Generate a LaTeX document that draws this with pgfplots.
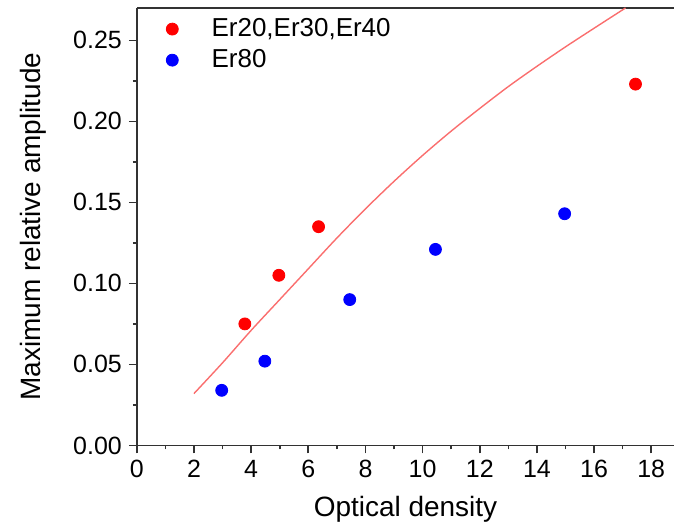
\documentclass[border=0pt]{standalone}
\usepackage{fontspec}
\setmainfont{Liberation Sans}
\usepackage{pgfplots}
\pgfplotsset{compat=1.18}
\definecolor{fitRed}{RGB}{250,110,110}
\definecolor{axGray}{RGB}{50,50,50}

\begin{document}
\begin{tikzpicture}
\begin{axis}[
    name=main,
    width=269bp, height=219bp,
    scale only axis=true,
    xmin=0, xmax=18.8,
    ymin=0, ymax=0.27,
    axis x line*=box, axis y line*=left,
    xtick pos=bottom, ytick pos=left,
    tick align=outside,
    xtick={0,2,...,18},
    ytick={0,0.05,...,0.25},
    minor x tick num=1,
    minor y tick num=1,
    major tick length=4bp, minor tick length=2bp,
    axis line style={axGray, line width=0.9bp},
    every tick/.style={axGray, line width=0.8bp},
    /pgf/number format/assume math mode=true,
    yticklabel style={/pgf/number format/fixed, /pgf/number format/fixed zerofill, /pgf/number format/precision=2},
    tick label style={font=\fontsize{12.5bp}{14bp}\selectfont},
    label style={font=\fontsize{14bp}{16bp}\selectfont},
    xlabel={Optical density},
    ylabel={Maximum relative amplitude},
    xlabel style={yshift=-2bp},
    ylabel style={yshift=6.5bp},
    legend style={draw=none, fill=none, at={(0.02,0.995)}, anchor=north west,
        font=\fontsize{13bp}{15bp}\selectfont, row sep=1bp},
    legend image code/.code={%
        \path (0bp,0bp) (26.5bp,0bp);
        \draw[#1] plot coordinates {(9bp,0bp)};},
    legend cell align=left,
    clip=false,
]
\addplot[only marks, mark=*, mark size=3bp, color=red, mark options={draw=red, fill=red}]
  coordinates {(3.78,0.075) (4.97,0.105) (6.36,0.135) (17.45,0.223)};
\addlegendentry{Er20,Er30,Er40}
\addplot[only marks, mark=*, mark size=3bp, color=blue, mark options={draw=blue, fill=blue}]
  coordinates {(2.97,0.034) (4.48,0.052) (7.45,0.090) (10.45,0.121) (14.97,0.143)};
\addlegendentry{Er80}
\addplot[fitRed, line width=0.7bp, smooth, forget plot]
  coordinates {(2.0,0.032) (3,0.051) (4,0.071) (5,0.090) (6,0.109) (7,0.128) (8,0.146) (9,0.163) (10,0.179) (11,0.194) (12,0.208) (13,0.2215) (14,0.234) (15,0.246) (16,0.2575) (17.1,0.270)};
\end{axis}
\path (main.north west) ++(0,4bp);
\path (main.south west) ++(-68.5bp,0bp);
\end{tikzpicture}
\end{document}
